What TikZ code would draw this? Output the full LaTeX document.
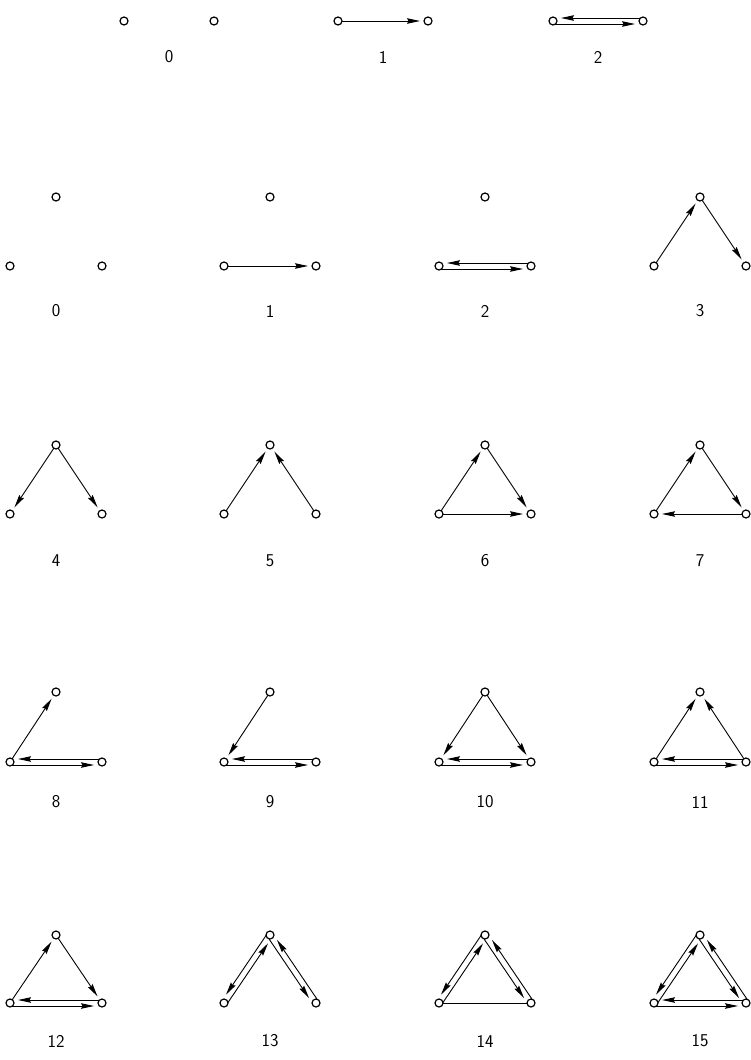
\documentclass[tikz,border=0pt]{standalone}
\usetikzlibrary{arrows.meta,calc}
\pgfdeclarelayer{bg}\pgfsetlayers{bg,main}
\tikzset{
  vtx/.style={circle,draw,fill=white,inner sep=0pt,minimum size=8pt,line width=1.2pt},
  lab/.style={font=\sffamily\fontsize{18}{20}\selectfont,inner sep=0pt},
  edg/.style={line width=0.9pt,line cap=round},
  arr/.style={edg,-{Stealth[length=13pt,width=5.5pt,inset=1.5pt]},shorten >=8pt},
}
% triangle: name, cx, ytop, ybot, label y, label text
\newcommand\tri[6]{%
  \node[vtx] (#1t) at (#2,#3) {};
  \node[vtx] (#1l) at ({#2-46},#4) {};
  \node[vtx] (#1r) at ({#2+46},#4) {};
  \node[lab] (#1n) at (#2,#5) {#6};}
% pair: name, cx, y, label y, label text
\newcommand\pairv[5]{%
  \node[vtx] (#1l) at ({#2-45},#3) {};
  \node[vtx] (#1r) at ({#2+45},#3) {};
  \node[lab] (#1n) at (#2,#4) {#5};}
% single edge
\newcommand\E[3][arr]{\begin{pgfonlayer}{bg}\draw[#1] (#2.center) -- (#3.center);\end{pgfonlayer}}
% edge offset to the right side of travel
\newcommand\EO[3][arr]{\begin{pgfonlayer}{bg}\draw[#1] ($(#2.center)!3pt!-90:(#3.center)$) -- ($(#3.center)!3pt!90:(#2.center)$);\end{pgfonlayer}}
\newcommand\ED[2]{\EO{#1}{#2}\EO{#2}{#1}}
\begin{document}
\begin{tikzpicture}[x=1pt,y=-1pt]
\useasboundingbox (0,0) rectangle (751,1060);
% row 1
\pairv{A0}{169}{21}{57}{0}
\pairv{A1}{383}{21}{57}{1}
\pairv{A2}{598}{21}{57}{2}
\E{A1l}{A1r}
\ED{A2l}{A2r}
% row 2
\tri{B0}{56}{197}{266}{311}{0}
\tri{B1}{270}{197}{266}{311}{1}
\tri{B2}{485}{197}{266}{311}{2}
\tri{B3}{700}{197}{266}{311}{3}
\E{B1l}{B1r}
\ED{B2l}{B2r}
\E{B3l}{B3t}\E{B3t}{B3r}
% row 3
\tri{C4}{56}{445}{514}{561}{4}
\tri{C5}{270}{445}{514}{561}{5}
\tri{C6}{485}{445}{514}{561}{6}
\tri{C7}{700}{445}{514}{561}{7}
\E{C4t}{C4l}\E{C4t}{C4r}
\E{C5l}{C5t}\E{C5r}{C5t}
\E{C6l}{C6t}\E{C6t}{C6r}\E{C6l}{C6r}
\E{C7l}{C7t}\E{C7t}{C7r}\E{C7r}{C7l}
% row 4
\tri{D8}{56}{692}{762}{802}{8}
\tri{D9}{270}{692}{762}{802}{9}
\tri{D10}{485}{692}{762}{802}{10}
\tri{D11}{700}{692}{762}{802}{11}
\E{D8l}{D8t}\ED{D8l}{D8r}
\E{D9t}{D9l}\ED{D9l}{D9r}
\E{D10t}{D10l}\E{D10t}{D10r}\ED{D10l}{D10r}
\E{D11l}{D11t}\E{D11r}{D11t}\ED{D11l}{D11r}
% row 5
\tri{E12}{56}{935}{1003}{1041}{12}
\tri{E13}{270}{935}{1003}{1041}{13}
\tri{E14}{485}{935}{1003}{1041}{14}
\tri{E15}{700}{935}{1003}{1041}{15}
\E{E12l}{E12t}\E{E12t}{E12r}\ED{E12l}{E12r}
\ED{E13l}{E13t}\ED{E13t}{E13r}
\ED{E14l}{E14t}\ED{E14t}{E14r}\E[edg]{E14l}{E14r}
\ED{E15l}{E15t}\ED{E15t}{E15r}\ED{E15l}{E15r}
\end{tikzpicture}
\end{document}
